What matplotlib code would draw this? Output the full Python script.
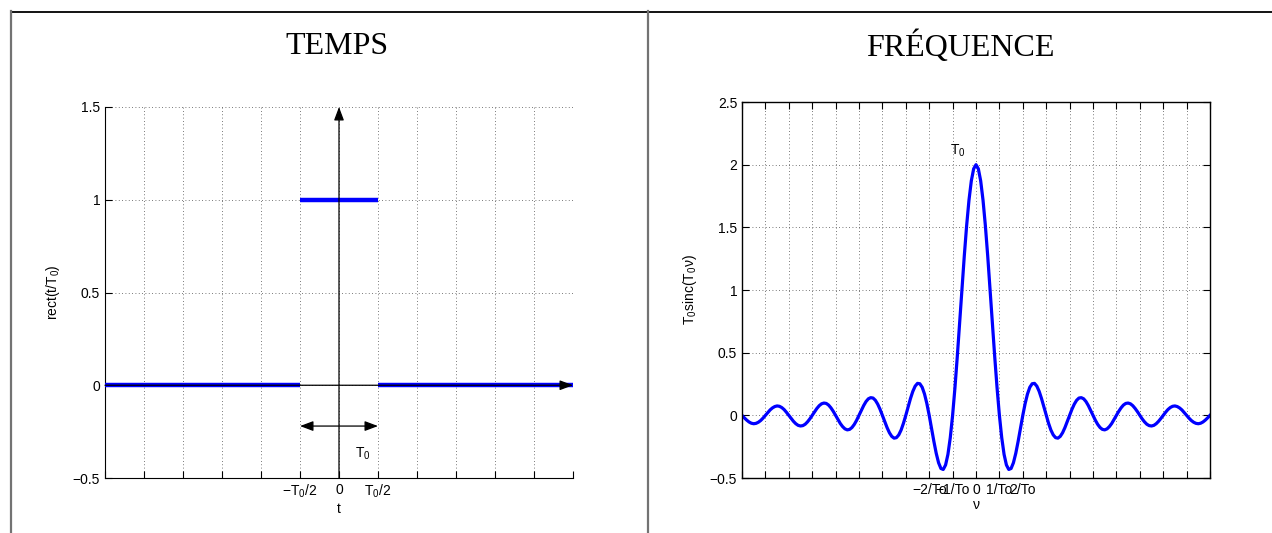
"""Rect pulse in time and its sinc spectrum, two-cell layout (TEMPS / FRÉQUENCE)."""
import numpy as np
import matplotlib
matplotlib.use("Agg")
import matplotlib.pyplot as plt
from matplotlib.lines import Line2D

plt.rcParams["font.family"] = ["Liberation Sans", "DejaVu Sans"]
plt.rcParams["mathtext.default"] = "regular"

# time domain: rect of width T0 (segments start, end, level)
seg_start = [-3.0, -0.5, 0.5]
seg_end = [-0.5, 0.5, 3.0]
seg_level = [0.0, 1.0, 0.0]
t_ticks_lab = {-0.5: "$-T_0/2$", 0.0: "0", 0.5: "$T_0/2$"}

# frequency domain: T0 sinc(T0 nu), T0 = 2, read every 0.05 for nu >= 0
nu_half = [round(0.05 * k, 2) for k in range(101)]
s_half = [2.000, 1.967, 1.871, 1.717, 1.514, 1.273, 1.009, 0.736, 0.468, 0.219,
          0.000, -0.179, -0.312, -0.396, -0.432, -0.424, -0.378, -0.303, -0.208, -0.104,
          0.000, 0.094, 0.170, 0.224, 0.252, 0.255, 0.233, 0.191, 0.134, 0.068,
          0.000, -0.063, -0.117, -0.156, -0.178, -0.182, -0.168, -0.139, -0.098, -0.050,
          0.000, 0.048, 0.089, 0.120, 0.138, 0.141, 0.132, 0.110, 0.078, 0.040,
          0.000, -0.039, -0.072, -0.097, -0.112, -0.116, -0.108, -0.090, -0.065, -0.033,
          0.000, 0.032, 0.060, 0.082, 0.095, 0.098, 0.092, 0.077, 0.055, 0.029,
          0.000, -0.028, -0.052, -0.071, -0.082, -0.085, -0.080, -0.067, -0.048, -0.025,
          0.000, 0.024, 0.046, 0.062, 0.072, 0.075, 0.070, 0.059, 0.043, 0.022,
          0.000, -0.022, -0.041, -0.055, -0.064, -0.067, -0.063, -0.053, -0.038, -0.020,
          0.000]
nu = [-v for v in nu_half[:0:-1]] + nu_half
spec = s_half[:0:-1] + s_half
nu_ticks_lab = {-1.0: "\u22122/To", -0.5: "\u22121/To", 0.0: "0", 0.5: "1/To", 1.0: "2/To"}

GRID = dict(color="0.3", linestyle=(0, (1, 3)), linewidth=0.6)
BLUE = (0, 0, 1)

fig = plt.figure(figsize=(12.72, 5.33), dpi=100)

# table borders
fig.add_artist(Line2D([11 / 1272, 1], [1 - 11.5 / 533] * 2, color="k", lw=1.3))
fig.add_artist(Line2D([10.5 / 1272] * 2, [0, 1 - 11 / 533], color="0.45", lw=1.6))
fig.add_artist(Line2D([647.5 / 1272] * 2, [0, 1 - 11 / 533], color="0.45", lw=1.6))
fig.text(337 / 1272, 1 - 47 / 533, "TEMPS", family="Liberation Serif", fontsize=23,
         ha="center", va="center")
fig.text(960 / 1272, 1 - 47 / 533, "FRÉQUENCE", family="Liberation Serif", fontsize=23,
         ha="center", va="center")

# ---- left: time
ax = fig.add_axes([105 / 1272, 55 / 533, 468 / 1272, 371 / 533])
ax.set_xlim(-3, 3)
ax.set_ylim(-0.5, 1.5)
xt = np.arange(-3, 3.01, 0.5)
ax.set_xticks(xt)
ax.set_xticklabels([t_ticks_lab.get(round(v, 2), "") for v in xt])
ax.set_yticks([-0.5, 0, 0.5, 1, 1.5])
ax.set_yticklabels(["\u22120.5", "0", "0.5", "1", "1.5"])
ax.grid(True, **GRID)
for s in ("top", "right"):
    ax.spines[s].set_visible(False)
ax.tick_params(direction="in", length=5, labelsize=10, width=0.8)
ax.hlines(seg_level, seg_start, seg_end, colors=[BLUE], lw=3.2, zorder=3)
ax.annotate("", xy=(3, 0), xytext=(-3, 0),
            arrowprops=dict(arrowstyle="-|>,head_length=0.8,head_width=0.3", color="k",
                            lw=0.9, shrinkA=0, shrinkB=0), zorder=4)
ax.annotate("", xy=(0, 1.5), xytext=(0, -0.5),
            arrowprops=dict(arrowstyle="-|>,head_length=0.8,head_width=0.3", color="k",
                            lw=0.9, shrinkA=0, shrinkB=0), zorder=4)
ax.annotate("", xy=(0.5, -0.22), xytext=(-0.5, -0.22),
            arrowprops=dict(arrowstyle="<|-|>,head_length=0.8,head_width=0.3", color="k",
                            lw=0.9, shrinkA=0, shrinkB=0), zorder=4)
ax.text(0.3, -0.37, "$T_0$", fontsize=10, ha="center", va="center")
ax.set_xlabel("t", fontsize=10, labelpad=1)
ax.set_ylabel("rect(t/$T_0$)", fontsize=10, labelpad=8)

# ---- right: frequency
bx = fig.add_axes([742 / 1272, 55 / 533, 468 / 1272, 376 / 533])
bx.plot(nu, spec, color=BLUE, lw=2.3)
bx.set_xlim(-5, 5)
bx.set_ylim(-0.5, 2.5)
nt = np.arange(-5, 5.01, 0.5)
bx.set_xticks(nt)
bx.set_xticklabels([nu_ticks_lab.get(round(v, 2), "") for v in nt])
bx.set_yticks([-0.5, 0, 0.5, 1, 1.5, 2, 2.5])
bx.set_yticklabels(["\u22120.5", "0", "0.5", "1", "1.5", "2", "2.5"])
bx.grid(True, **GRID)
bx.tick_params(direction="in", length=5, labelsize=10, width=0.8,
               top=True, right=True)
for s in bx.spines.values():
    s.set_linewidth(1.0)
bx.text(-0.38, 2.11, "$T_0$", fontsize=10, ha="center", va="center")
bx.set_xlabel("\u03bd", fontsize=10, labelpad=1)
bx.set_ylabel("$T_0$sinc($T_0$\u03bd)", fontsize=10, labelpad=8)

fig.savefig("out.png", dpi=100)
